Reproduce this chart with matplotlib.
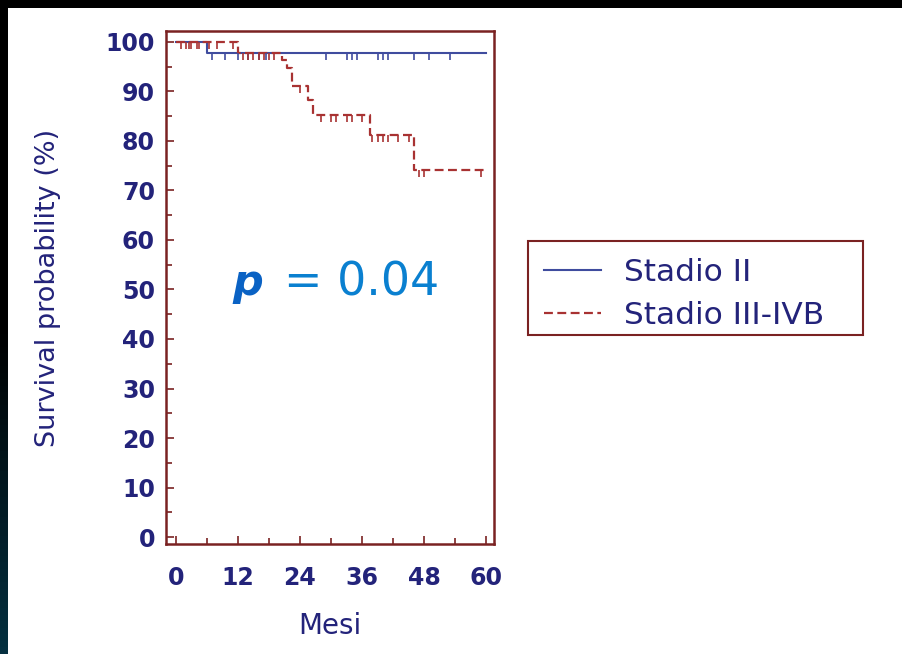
import numpy as np
import matplotlib
matplotlib.use('Agg')
import matplotlib.pyplot as plt

# Kaplan-Meier steps (months, survival %)
t_ii = [0, 6, 60]
s_ii = [100, 97.8, 97.8]
cens_t_ii = [7, 9.5, 12, 14, 16, 17.5, 29, 33, 34, 35, 39, 40, 41, 46, 49, 53]

t_iii = [0, 12, 20.5, 21.5, 22.5, 25.5, 26.5, 37.5, 46, 60]
s_iii = [100, 97.8, 96.3, 94.8, 91.0, 88.3, 85.2, 81.2, 74.1, 74.1]
cens_t_iii = [1, 2, 2.5, 3, 4, 4.5, 6.5, 8, 11,
              13, 14, 15, 16, 17, 18, 19, 24,
              28, 30, 31, 33, 34, 36,
              38, 39, 40, 41, 43, 45,
              47, 48, 59]

labels = ['Stadio II', 'Stadio III-IVB']
xticks = [0, 12, 24, 36, 48, 60]
yticks = list(range(0, 101, 10))

blue = '#3f4c9e'
red = '#a83232'
frame = '#7a2222'
txt = '#23237a'

W, H = 903, 654
fig = plt.figure(figsize=(W / 100, H / 100), dpi=100, facecolor='white')

# dark frame strips on the top and left
top = fig.add_axes([0, 1 - 8 / H, 1, 8 / H])
top.axis('off')
top.add_patch(plt.Rectangle((0, 0), 1, 1, color='black', transform=top.transAxes))
left = fig.add_axes([0, 0, 8 / W, 1])
left.imshow(np.linspace(0, 1, 100).reshape(-1, 1), aspect='auto',
            cmap=matplotlib.colors.LinearSegmentedColormap.from_list('g', ['black', 'black', '#053040']),
            extent=[0, 1, 0, 1], origin='upper')
left.axis('off')

ax = fig.add_axes([166 / W, 1 - 544 / H, (494 - 166) / W, (544 - 31) / H])


def step_value(ts, ss, x):
    i = np.searchsorted(ts, x, side='right') - 1
    return ss[i]


ax.step(t_ii, s_ii, where='post', color=blue, lw=1.5, label=labels[0])
ax.step(t_iii, s_iii, where='post', color=red, lw=1.6, ls=(0, (4, 2)), label=labels[1])

ax.plot(cens_t_ii, [step_value(t_ii, s_ii, c) for c in cens_t_ii], ls='none',
        marker=3, ms=5, mew=1.2, color=blue)
ax.plot(cens_t_iii, [step_value(t_iii, s_iii, c) for c in cens_t_iii], ls='none',
        marker=3, ms=5, mew=1.2, color=red)

ax.set_xlim(-1.9, 61.5)
ax.set_ylim(-1.4, 102.2)
ax.set_xticks(xticks)
ax.set_xticks([6, 18, 30, 42, 54], minor=True)
ax.set_yticks(yticks)
ax.set_yticks(list(range(5, 100, 10)), minor=True)
ax.tick_params(which='both', direction='in', color=frame, labelcolor=txt,
               labelsize=17, width=1.2)
ax.tick_params(which='major', length=6)
ax.tick_params(which='minor', length=4)
ax.tick_params(axis='x', which='major', pad=16)
ax.tick_params(axis='y', which='major', pad=8)
for lab in ax.get_xticklabels() + ax.get_yticklabels():
    lab.set_fontweight('bold')
for sp in ax.spines.values():
    sp.set_color(frame)
    sp.set_linewidth(1.8)

ax.set_xlabel('Mesi', color=txt, fontsize=20, labelpad=16)
ax.set_ylabel('Survival probability (%)', color=txt, fontsize=19.5, labelpad=32)

fig.text(232 / W, 1 - 283 / H, 'p', fontsize=31, fontweight='bold', style='italic',
         color='#0a62c4', ha='left', va='center')
fig.text(284 / W, 1 - 283 / H, '= 0.04', fontsize=33, color='#0a80d0',
         ha='left', va='center')

# legend box drawn by hand, entries from the legend itself
fig.patches.append(plt.Rectangle((528 / W, 1 - 335 / H), (863 - 528) / W, (335 - 241) / H,
                                 transform=fig.transFigure, fill=False,
                                 edgecolor=frame, linewidth=1.5))
leg = fig.legend(loc='upper left', bbox_to_anchor=(535 / W, 1 - 249 / H),
                 frameon=False, fontsize=22.5, handlelength=1.8,
                 labelcolor=txt, borderpad=0.3, handletextpad=0.75,
                 labelspacing=0.42, borderaxespad=0)

fig.savefig('out.png', dpi=100, facecolor='white')
